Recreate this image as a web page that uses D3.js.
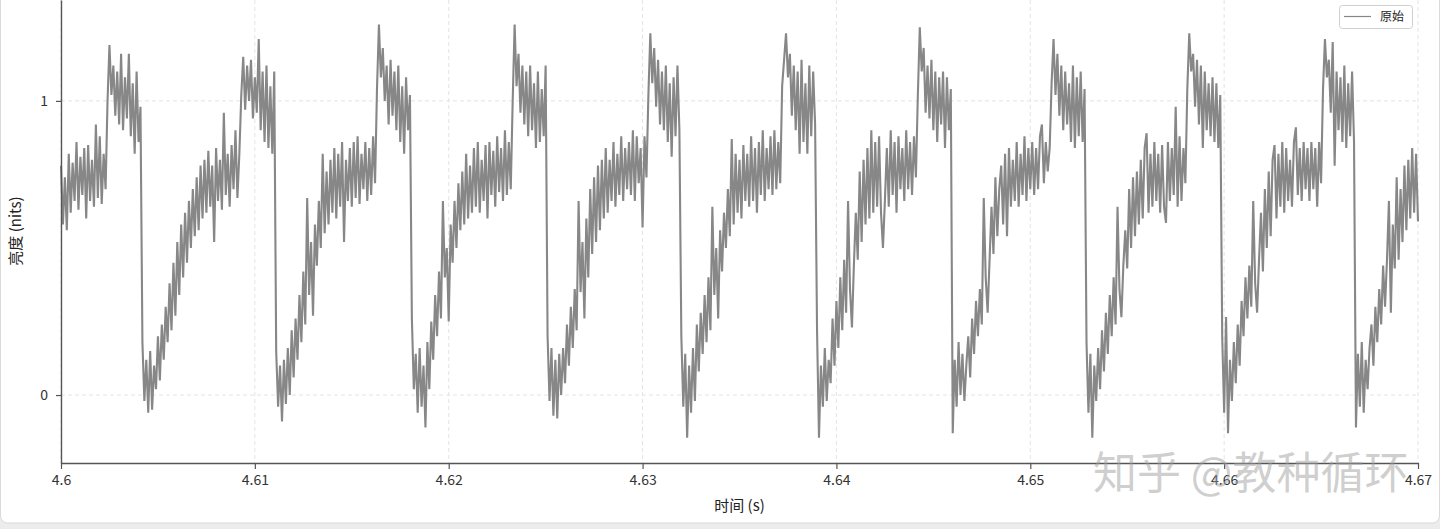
<!DOCTYPE html>
<html><head><meta charset="utf-8">
<script src="https://cdn.jsdelivr.net/npm/d3@7"></script>
<style>
html,body{margin:0;padding:0;background:#ececec;}
svg{display:block;}
</style></head><body>
<svg id="chart" width="1440" height="529"></svg>
<script>
// ---- data ----
const startTime = 4.6;
const sampleStep = 0.0001;
const brightness = [
// lead-in plateau
0.78,0.58,0.74,0.56,0.82,0.62,0.79,0.66,0.86,0.63,0.81,0.68,0.84,0.60,0.85,0.66,0.80,0.64,0.92,0.67,0.88,0.65,0.82,0.70,
// cycle 1
1.00,1.19,1.02,1.12,0.95,1.10,0.92,1.16,0.90,1.08,0.94,1.16,0.88,1.06,0.82,1.10,0.86,0.98,
0.18,-0.02,0.12,-0.06,0.15,-0.05,0.10,0.02,
0.20,0.05,0.24,0.12,0.30,0.18,0.38,0.22,0.45,0.27,0.52,0.34,0.58,0.40,0.62,0.45,0.66,
0.50,0.70,0.54,0.74,0.56,0.78,0.60,0.80,0.62,0.83,0.64,0.78,0.52,0.84,0.66,0.80,0.63,0.96,0.68,0.82,0.64,0.85,0.70,0.90,0.67,0.82,
// cycle 2
1.02,1.15,0.97,1.12,1.00,1.14,0.94,1.08,0.96,1.21,0.90,1.10,0.86,1.12,0.84,1.05,0.82,1.10,
0.15,-0.04,0.10,-0.09,0.12,-0.03,0.16,0.00,
0.22,0.06,0.26,0.12,0.34,0.18,0.42,0.24,0.67,0.34,0.52,0.27,0.58,0.44,0.66,0.50,0.82,
0.55,0.76,0.58,0.80,0.62,0.84,0.60,0.82,0.64,0.86,0.52,0.80,0.66,0.84,0.64,0.86,0.67,0.88,0.65,0.82,0.70,0.86,0.66,0.84,0.68,0.88,0.72,
// cycle 3
1.04,1.26,1.08,1.18,1.00,1.12,0.92,1.14,0.95,1.10,0.90,1.12,0.86,1.05,0.82,1.08,0.90,1.02,
0.26,0.02,0.14,-0.06,0.16,-0.04,0.10,-0.11,
0.18,0.02,0.25,0.12,0.34,0.20,0.42,0.26,0.66,0.40,0.50,0.25,0.58,0.45,0.66,0.50,0.72,
0.56,0.76,0.58,0.82,0.60,0.78,0.62,0.84,0.64,0.86,0.62,0.80,0.66,0.85,0.60,0.86,0.68,0.83,0.64,0.88,0.69,0.84,0.66,0.90,0.68,0.86,0.70,
// cycle 4
1.00,1.26,1.05,1.16,0.96,1.12,0.92,1.10,0.88,1.12,0.90,1.06,0.84,1.10,0.86,1.04,0.88,1.12,
0.20,-0.02,0.16,-0.07,0.12,-0.08,0.14,0.00,
0.16,0.04,0.24,0.10,0.30,0.16,0.36,0.22,0.66,0.35,0.52,0.26,0.60,0.40,0.70,0.48,0.74,
0.52,0.78,0.56,0.80,0.60,0.84,0.62,0.80,0.66,0.86,0.64,0.82,0.68,0.88,0.66,0.84,0.70,0.86,0.68,0.90,0.66,0.88,0.72,0.84,0.57,0.88,0.74,
// cycle 5
1.02,1.23,1.06,1.18,0.98,1.14,0.92,1.10,0.90,1.12,0.86,1.06,0.81,1.08,0.88,1.12,0.90,
0.20,-0.04,0.14,-0.145,0.10,-0.06,0.16,-0.02,
0.24,0.08,0.28,0.14,0.34,0.18,0.40,0.22,0.64,0.34,0.50,0.26,0.56,0.42,0.62,0.50,0.70,
0.54,0.87,0.58,0.82,0.62,0.80,0.60,0.85,0.66,0.82,0.64,0.88,0.66,0.84,0.62,0.86,0.68,0.90,0.66,0.84,0.70,0.88,0.68,0.90,0.70,0.86,0.72,
// cycle 6
1.05,1.14,1.23,1.08,1.16,0.95,1.12,0.90,1.10,0.82,1.14,0.86,1.06,0.82,1.12,0.88,1.10,0.92,
0.22,-0.145,0.10,-0.04,0.16,-0.02,0.12,0.04,
0.26,0.10,0.32,0.16,0.40,0.22,0.46,0.28,0.66,0.36,0.23,0.44,0.62,0.46,0.76,0.52,0.80,
0.58,0.84,0.60,0.90,0.62,0.86,0.64,0.88,0.62,0.50,0.66,0.84,0.64,0.90,0.68,0.86,0.62,0.88,0.70,0.84,0.66,0.90,0.70,0.86,0.68,0.88,0.74,
// cycle 7
1.02,1.25,1.10,1.18,0.96,1.12,0.94,1.14,0.90,1.10,0.86,1.08,0.92,1.10,0.84,1.08,0.90,1.04,
-0.13,0.12,-0.04,0.18,0.00,0.14,-0.02,0.10,
0.20,0.06,0.26,0.14,0.32,0.20,0.36,0.24,0.67,0.40,0.28,0.46,0.64,0.48,0.74,0.54,0.70,
0.78,0.58,0.82,0.54,0.84,0.64,0.80,0.66,0.86,0.64,0.82,0.68,0.88,0.66,0.84,0.70,0.86,0.68,0.84,0.70,0.88,0.92,0.72,0.86,0.76,0.84,
// cycle 8
1.06,1.21,1.02,1.16,0.95,1.12,0.90,1.10,0.92,1.06,0.86,1.12,0.84,1.08,0.88,1.10,0.86,1.04,
0.18,-0.06,0.14,-0.145,0.10,-0.02,0.16,0.02,
0.22,0.08,0.28,0.14,0.34,0.20,0.40,0.24,0.64,0.36,0.265,0.44,0.56,0.43,0.70,0.50,0.74,
0.54,0.76,0.58,0.80,0.60,0.84,0.89,0.62,0.82,0.64,0.86,0.66,0.82,0.62,0.85,0.64,0.585,0.86,0.66,0.84,0.68,0.98,0.64,0.88,0.66,0.84,0.72,
// cycle 9
1.04,1.23,1.10,1.16,0.98,1.14,0.92,1.12,0.84,1.10,0.90,1.06,0.88,1.08,0.86,1.06,0.84,1.02,
0.20,-0.06,0.265,-0.13,0.12,-0.02,0.18,0.04,
0.24,0.10,0.32,0.20,0.40,0.26,0.44,0.30,0.66,0.38,0.28,0.46,0.62,0.42,0.70,0.50,0.76,
0.54,0.80,0.85,0.60,0.82,0.64,0.86,0.62,0.84,0.66,0.80,0.64,0.86,0.91,0.68,0.84,0.66,0.86,0.70,0.84,0.66,0.86,0.70,0.84,0.64,0.86,0.72,
// cycle 10
1.04,1.21,1.08,1.14,0.96,1.20,0.78,1.10,0.90,1.08,0.86,1.12,0.84,1.06,0.88,1.10,0.86,
-0.11,0.14,-0.04,0.18,-0.06,0.12,0.02,0.16,
0.24,0.10,0.30,0.18,0.36,0.24,0.44,0.30,0.46,0.66,0.28,0.58,0.43,0.74,0.46,0.70,0.52,
0.78,0.56,0.80,0.60,0.84,0.62,0.82,0.59
];
const xTickValues = [4.60, 4.61, 4.62, 4.63, 4.64, 4.65, 4.66, 4.67];
const xTickLabels = ["4.6", "4.61", "4.62", "4.63", "4.64", "4.65", "4.66", "4.67"];
const yTickValues = [0, 1];
const yTickLabels = ["0", "1"];
const seriesName = "原始";
const xTitle = "时间 (s)";
const yTitle = "亮度 (nits)";
const watermark = "知乎 @教种循环";

// ---- layout ----
const W = 1440, H = 529;
const plotLeft = 61, plotRight = 1418, plotTop = 0, plotBottom = 463;
const FONT = "'Noto Sans CJK SC','Noto Sans',sans-serif";

const points = brightness.map((v, i) => ({ t: startTime + i * sampleStep, v }));

const x = d3.scaleLinear().domain([4.6, 4.67]).range([plotLeft, plotRight]);
const y = d3.scaleLinear().domain([-0.231, 1.343]).range([plotBottom, plotTop]);

const svg = d3.select("#chart");

// card
svg.append("rect").attr("x", 0.5).attr("y", -10).attr("width", W - 1).attr("height", 533)
  .attr("rx", 7).attr("fill", "#ffffff").attr("stroke", "#dadada");

// grid
const grid = svg.append("g");
grid.selectAll("line.gx").data(xTickValues).join("line")
  .attr("x1", d => x(d)).attr("x2", d => x(d)).attr("y1", plotTop).attr("y2", plotBottom)
  .attr("stroke", "#e4e4e4").attr("stroke-dasharray", "4,3").attr("stroke-width", 1);
grid.selectAll("line.gy").data(yTickValues).join("line")
  .attr("x1", plotLeft).attr("x2", plotRight).attr("y1", d => y(d)).attr("y2", d => y(d))
  .attr("stroke", "#e4e4e4").attr("stroke-dasharray", "4,3").attr("stroke-width", 1);

// line
const line = d3.line().x(d => x(d.t)).y(d => y(d.v));
svg.append("path").datum(points).attr("d", line)
  .attr("fill", "none").attr("stroke", "#878787").attr("stroke-width", 2.1)
  .attr("stroke-linejoin", "bevel");

// axes
const xAxis = d3.axisBottom(x).tickValues(xTickValues)
  .tickFormat((d, i) => xTickLabels[i]).tickSize(6).tickSizeOuter(0).tickPadding(6);
const gx = svg.append("g").attr("transform", `translate(0,${plotBottom})`).call(xAxis);
const yAxis = d3.axisLeft(y).tickValues(yTickValues)
  .tickFormat((d, i) => yTickLabels[i]).tickSize(5).tickSizeOuter(0).tickPadding(8);
const gy = svg.append("g").attr("transform", `translate(${plotLeft},0)`).call(yAxis);
[gx, gy].forEach(g => {
  g.select(".domain").attr("stroke", "#555").attr("stroke-width", 1.4);
  g.selectAll(".tick line").attr("stroke", "#555").attr("stroke-width", 1.2);
  g.selectAll(".tick text").attr("fill", "#333").style("font-size", "14px").style("font-family", FONT);
});

// titles
svg.append("text").attr("x", (plotLeft + plotRight) / 2).attr("y", 511)
  .attr("text-anchor", "middle").attr("fill", "#222")
  .style("font-size", "15px").style("font-family", FONT).text(xTitle);
svg.append("text").attr("transform", "translate(21,231) rotate(-90)")
  .attr("text-anchor", "middle").attr("fill", "#222")
  .style("font-size", "15px").style("font-family", FONT).text(yTitle);

// legend
const lg = svg.append("g");
lg.append("rect").attr("x", 1339.5).attr("y", 5.5).attr("width", 73).attr("height", 23)
  .attr("rx", 3).attr("fill", "#fff").attr("stroke", "#cfcfcf");
lg.append("line").attr("x1", 1344).attr("x2", 1371).attr("y1", 16.5).attr("y2", 16.5)
  .attr("stroke", "#868686").attr("stroke-width", 1.2);
lg.append("text").attr("x", 1380).attr("y", 21).attr("fill", "#222")
  .style("font-size", "12px").style("font-family", FONT).text(seriesName);

// watermark
svg.append("text").attr("x", 1093).attr("y", 489)
  .attr("fill", "#a0a0a0").attr("fill-opacity", 0.5)
  .style("font-size", "44px").style("font-family", FONT).text(watermark);
</script>
</body></html>
